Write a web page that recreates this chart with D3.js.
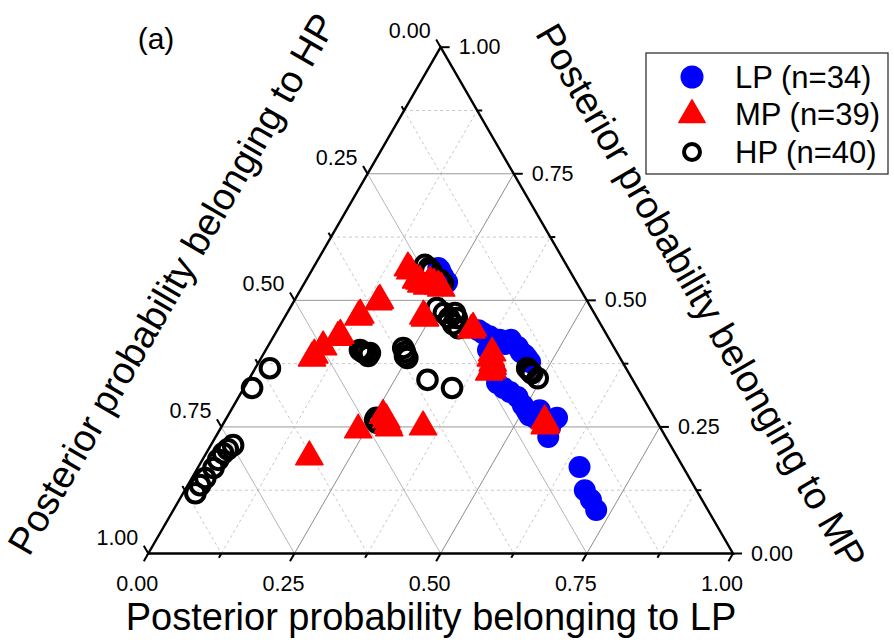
<!DOCTYPE html>
<html>
<head>
<meta charset="utf-8">
<script src="https://cdn.jsdelivr.net/npm/d3@7"></script>
<style>
  body { margin: 0; background: #fff; }
  svg { display: block; font-family: "Liberation Sans", Arial, sans-serif; }
</style>
</head>
<body>
<div id="chart"></div>
<script>
// ternary data, each point = [LP, MP] (HP = 1 - LP - MP)
const groups = ["LP (n=34)", "MP (n=39)", "HP (n=40)"];
const ticks = [0, 0.125, 0.25, 0.375, 0.5, 0.625, 0.75, 0.875, 1];
const tickLabels = ["0.00", "0.25", "0.50", "0.75", "1.00"];

const lpPoints = [
  [.214,.564],[.219,.560],[.230,.548],[.243,.536],[.344,.441],[.355,.435],[.369,.429],
  [.390,.422],[.403,.414],[.409,.422],[.428,.408],[.438,.398],[.448,.392],[.455,.386],
  [.464,.378],[.380,.402],[.397,.382],[.414,.358],[.428,.337],[.444,.327],[.459,.319],
  [.477,.309],[.494,.293],[.505,.283],[.515,.273],[.527,.268],[.528,.283],[.543,.264],
  [.565,.268],[.563,.248],[.569,.230],[.652,.171],[.684,.125],[.704,.106],[.723,.086]
];
const mpPoints = [
  [.162,.564],[.169,.558],[.188,.540],[.195,.538],[.201,.532],[.214,.536],[.213,.528],
  [.222,.532],[.232,.528],[.239,.524],[.241,.465],[.236,.469],[.333,.445],[.332,.441],
  [.390,.396],[.393,.386],[.401,.376],[.404,.370],[.407,.362],[.404,.358],[.547,.262],
  [.552,.252],[.552,.256],[.145,.497],[.146,.500],[.126,.467],[.127,.471],[.111,.427],
  [.113,.431],[.095,.408],[.087,.386],[.088,.392],[.265,.273],[.275,.264],[.288,.248],
  [.283,.254],[.237,.244],[.345,.250],[.180,.191]
];
const hpPoints = [
  [.188,.570],[.198,.564],[.205,.558],[.229,.540],[.237,.534],[.251,.485],[.268,.475],
  [.282,.465],[.287,.475],[.295,.453],[.295,.465],[.308,.445],[.465,.366],[.473,.360],
  [.478,.356],[.493,.346],[.161,.402],[.168,.398],[.173,.396],[.181,.396],[.181,.390],
  [.233,.406],[.240,.398],[.244,.390],[.250,.386],[.306,.343],[.356,.327],[.256,.264],
  [.256,.268],[.262,.258],[.025,.366],[.014,.327],[.038,.214],[.033,.206],[.029,.198],
  [.027,.185],[.027,.169],[.023,.149],[.021,.135],[.021,.119]
];

const width = 894, height = 644;
const svg = d3.select("#chart").append("svg")
  .attr("width", width).attr("height", height);

const x = d3.scaleLinear().domain([0, 1]).range([148.3, 733]);
const y = d3.scaleLinear().domain([0, 1]).range([553.5, 47.2]);
const px = (lp, mp) => x(lp + mp / 2);
const py = (lp, mp) => y(mp);

const S = Math.sqrt(3) / 2;

// grid
const inner = ticks.filter(v => v > 0 && v < 1);
const grid = svg.append("g").attr("fill", "none");
inner.forEach((v, i) => {
  const major = i % 2 === 1;
  const segs = [
    { a: [v, 0], b: [v, 1 - v], c: "#8c8c8c" },      // LP const
    { a: [0, v], b: [1 - v, v], c: "#999" },         // MP const
    { a: [0, 1 - v], b: [1 - v, 0], c: "#b5b5b5" }   // HP const
  ];
  segs.forEach(s => {
    grid.append("line")
      .attr("x1", px(...s.a)).attr("y1", py(...s.a))
      .attr("x2", px(...s.b)).attr("y2", py(...s.b))
      .attr("stroke", major ? s.c : "#c8c8c8")
      .attr("stroke-width", 1)
      .attr("stroke-dasharray", major ? null : "3,3");
  });
});

// triangle frame
svg.append("path")
  .attr("d", d3.line()([[px(0, 0), py(0, 0)], [px(1, 0), py(1, 0)], [px(0, 1), py(0, 1)]]) + "Z")
  .attr("fill", "none").attr("stroke", "#000").attr("stroke-width", 2.4)
  .attr("stroke-linejoin", "miter");

// ticks + labels
const axG = svg.append("g").attr("stroke", "#000").attr("stroke-width", 2);
const lab = svg.append("g").attr("font-size", 21.5).attr("fill", "#000");
ticks.forEach((v, i) => {
  const len = i % 2 === 0 ? 9 : 5;
  // bottom LP
  let bx = px(v, 0), by = py(v, 0);
  axG.append("line").attr("x1", bx).attr("y1", by)
    .attr("x2", bx - 0.5 * len).attr("y2", by + S * len);
  // right MP
  let rx = px(1 - v, v), ry = py(1 - v, v);
  axG.append("line").attr("x1", rx).attr("y1", ry)
    .attr("x2", rx + len).attr("y2", ry);
  // left HP
  let lx = px(0, 1 - v), ly = py(0, 1 - v);
  axG.append("line").attr("x1", lx).attr("y1", ly)
    .attr("x2", lx - 0.5 * len).attr("y2", ly - S * len);
  if (i % 2 === 0) {
    const t = tickLabels[i / 2];
    lab.append("text").attr("x", bx - 11).attr("y", by + 30)
      .attr("text-anchor", "middle").attr("dominant-baseline", "central").text(t);
    lab.append("text").attr("x", rx + 18).attr("y", ry)
      .attr("text-anchor", "start").attr("dominant-baseline", "central").text(t);
    lab.append("text").attr("x", lx - 10).attr("y", ly - 16)
      .attr("text-anchor", "end").attr("dominant-baseline", "central").text(t);
  }
});

// axis titles
svg.append("text").attr("x", 431).attr("y", 617)
  .attr("text-anchor", "middle").attr("dominant-baseline", "central")
  .attr("font-size", 38).text("Posterior probability belonging to LP");
svg.append("text")
  .attr("transform", "translate(172,284) rotate(-60)")
  .attr("text-anchor", "middle").attr("dominant-baseline", "central")
  .attr("font-size", 38).text("Posterior probability belonging to HP");
svg.append("text")
  .attr("transform", "translate(701,296) rotate(60)")
  .attr("text-anchor", "middle").attr("dominant-baseline", "central")
  .attr("font-size", 38).text("Posterior probability belonging to MP");

svg.append("text").attr("x", 156).attr("y", 38)
  .attr("text-anchor", "middle").attr("dominant-baseline", "central")
  .attr("font-size", 30).text("(a)");

// points
const tri = d3.symbol().type(d3.symbolTriangle).size(320);
svg.append("g").selectAll("circle").data(lpPoints).join("circle")
  .attr("cx", d => px(...d)).attr("cy", d => py(...d))
  .attr("r", 11).attr("fill", "#0000ff");
svg.append("g").selectAll("circle").data(hpPoints).join("circle")
  .attr("cx", d => px(...d)).attr("cy", d => py(...d))
  .attr("r", 9.3).attr("fill", "none").attr("stroke", "#000").attr("stroke-width", 4);
svg.append("g").selectAll("path").data(mpPoints).join("path")
  .attr("d", tri)
  .attr("transform", d => `translate(${px(...d)},${py(...d)})`)
  .attr("fill", "#ff0000").attr("stroke", "#ff0000").attr("stroke-width", 1.5)
  .attr("stroke-linejoin", "round");

// legend
const lg = svg.append("g");
lg.append("rect").attr("x", 646).attr("y", 53).attr("width", 242).attr("height", 121)
  .attr("fill", "#fff").attr("stroke", "#333").attr("stroke-width", 1.3);
const rowY = [77, 114, 152];
lg.append("circle").attr("cx", 692).attr("cy", rowY[0]).attr("r", 11.5).attr("fill", "#0000ff");
lg.append("path").attr("d", d3.symbol().type(d3.symbolTriangle).size(300))
  .attr("transform", `translate(692,${rowY[1] + 1})`)
  .attr("fill", "#ff0000").attr("stroke", "#ff0000").attr("stroke-width", 1.5).attr("stroke-linejoin", "round");
lg.append("circle").attr("cx", 692).attr("cy", rowY[2]).attr("r", 8)
  .attr("fill", "none").attr("stroke", "#000").attr("stroke-width", 4);
groups.forEach((g, i) => {
  lg.append("text").attr("x", 735).attr("y", rowY[i])
    .attr("dominant-baseline", "central").attr("font-size", 31).text(g);
});
</script>
</body>
</html>
